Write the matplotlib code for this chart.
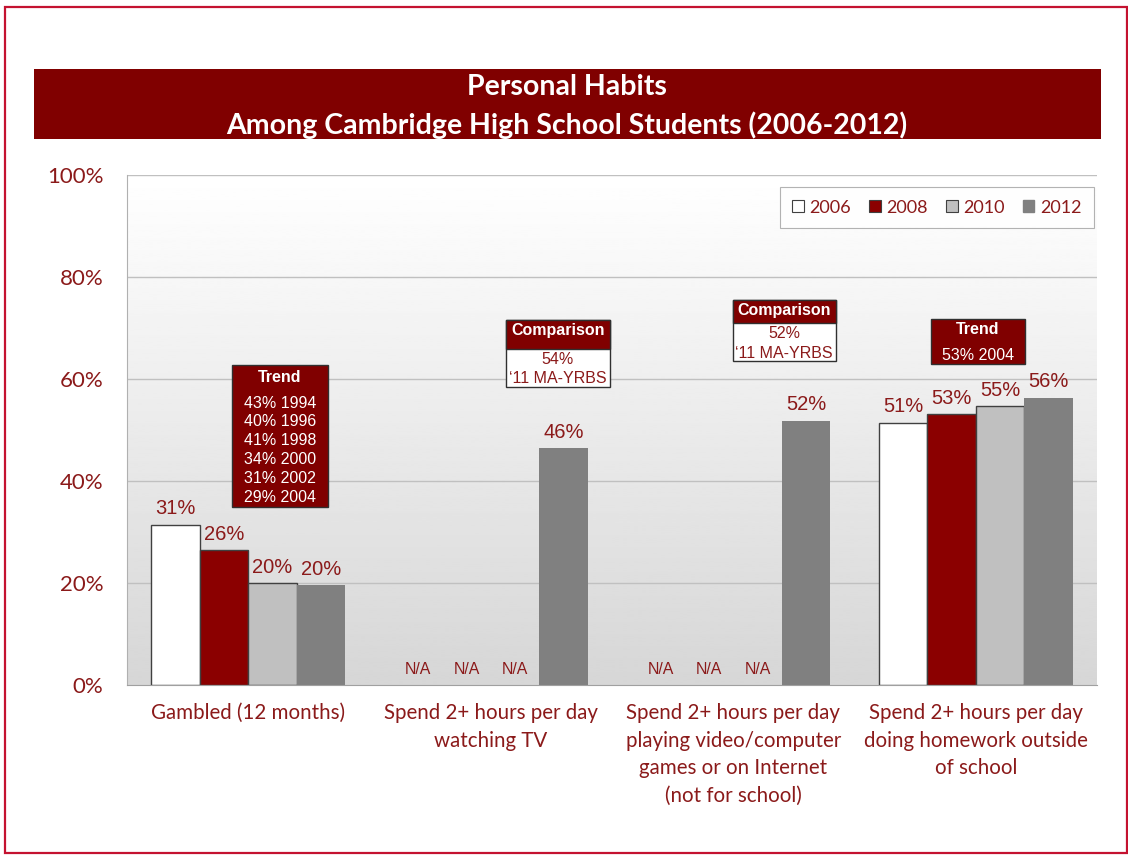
import numpy as np
import matplotlib
matplotlib.use("Agg")
import matplotlib.pyplot as plt
from matplotlib.patches import Rectangle, Patch

# data
categories = ["Gambled (12 months)",
              "Spend 2+ hours per day\nwatching TV",
              "Spend 2+ hours per day\nplaying video/computer\ngames or on Internet\n(not for school)",
              "Spend 2+ hours per day\ndoing homework outside\nof school"]
years = ["2006", "2008", "2010", "2012"]
v2006 = [31.4, None, None, 51.4]
v2008 = [26.4, None, None, 53.1]
v2010 = [20.0, None, None, 54.7]
v2012 = [19.6, 46.4, 51.8, 56.3]
yticks = [0, 20, 40, 60, 80, 100]

trend_gambled = ["43% 1994", "40% 1996", "41% 1998", "34% 2000", "31% 2002", "29% 2004"]
trend_homework = ["53% 2004"]
comp_tv = ["54%", "\u201811 MA-YRBS"]
comp_games = ["52%", "\u201811 MA-YRBS"]

DARK = "#800000"
TXT = "#8b1a1a"
W, H = 1128, 855

fig = plt.figure(figsize=(W / 100, H / 100), dpi=100)


def fx(px):
    return px / W


def fy(py):
    return 1 - py / H


# outer border
fig.patches.append(Rectangle((fx(5), fy(853)), fx(1127) - fx(5), fy(7) - fy(853),
                             transform=fig.transFigure, fill=False,
                             edgecolor="#c41230", lw=1.6))

# title band
fig.patches.append(Rectangle((fx(34), fy(139)), fx(1101) - fx(34), fy(69) - fy(139),
                             transform=fig.transFigure, facecolor=DARK, edgecolor="none"))
fig.text(fx(567), fy(87), "Personal Habits", color="white", fontsize=20.5,
         fontweight="bold", family="Lato", ha="center", va="center")
fig.text(fx(567), fy(125), "Among Cambridge High School Students (2006-2012)",
         color="white", fontsize=20.5, fontweight="bold", family="Lato",
         ha="center", va="center")

ax = fig.add_axes([fx(127), fy(685), fx(1097) - fx(127), fy(175) - fy(685)])
ax.set_xlim(-0.5, 3.5)

# gradient background, white at the top to light grey at the bottom
grad = np.linspace(1.0, 0.84, 256).reshape(-1, 1)
ax.imshow(grad, cmap="gray", vmin=0, vmax=1, extent=[-0.5, 3.5, 0, 100],
          aspect="auto", zorder=0, origin="upper")
ax.set_ylim(0, 100)

for y in yticks[1:]:
    ax.axhline(y, color="#c0c0c0", lw=1, zorder=1)

styles = [("white", "#404040", 1.0), ("#8b0000", "#404040", 1.0),
          ("#c0c0c0", "#404040", 1.0), ("#808080", "none", 0)]
series = [v2006, v2008, v2010, v2012]
x = np.arange(len(categories))
width = 0.2
for i, (vals, (fc, ec, lw)) in enumerate(zip(series, styles)):
    xs = x + (i - 1.5) * width
    for xi, v in zip(xs, vals):
        if v is None:
            ax.annotate("N/A", (xi, 0), xytext=(0, 16), textcoords="offset pixels",
                        ha="center", va="center", color=TXT, fontsize=11.4,
                        family="Liberation Sans")
            continue
        ax.bar(xi, v, width, color=fc, edgecolor=ec, linewidth=lw, zorder=2)
        ax.annotate(f"{v:.0f}%", (xi, v), xytext=(0, 16), textcoords="offset pixels",
                    ha="center", va="center", color=TXT, fontsize=14.5,
                    family="Liberation Sans")

ax.set_yticks(yticks)
ax.set_yticklabels([f"{t}%" for t in yticks], color=TXT, fontsize=16, family="Lato")
ax.set_xticks(x)
ax.set_xticklabels(categories, color=TXT, fontsize=14.8, family="Lato", linespacing=1.48)
ax.tick_params(axis="y", length=0, pad=17)
ax.tick_params(axis="x", length=0, pad=13)
for s in ["top", "right"]:
    ax.spines[s].set_visible(False)
ax.spines["left"].set_color("#b0b0b0")
ax.spines["bottom"].set_color("#a0a0a0")

handles = [Patch(facecolor=fc, edgecolor=("#404040" if ec == "none" else ec), linewidth=0.8)
           for fc, ec, lw in styles]
handles[3] = Patch(facecolor="#808080", edgecolor="#808080")
leg = ax.legend(handles, years, ncol=4, loc="upper right",
                bbox_to_anchor=(fx(1094), fy(187)), bbox_transform=fig.transFigure,
                borderaxespad=0, frameon=True, fancybox=False,
                handlelength=0.65, handleheight=0.65, handletextpad=0.3,
                columnspacing=1.0, borderpad=0.7,
                prop={"family": "Lato", "size": 13})
leg.get_frame().set_edgecolor("#a0a0a0")
leg.get_frame().set_linewidth(0.8)
for t in leg.get_texts():
    t.set_color(TXT)


def fig_box(x0, y0, x1, y1, fc):
    fig.patches.append(Rectangle((fx(x0), fy(y1)), fx(x1) - fx(x0), fy(y0) - fy(y1),
                                 transform=fig.transFigure, facecolor=fc,
                                 edgecolor="#303030", lw=1.0, zorder=5))


def fig_txt(xc, yc, s, color, bold=False):
    fig.text(fx(xc), fy(yc), s, ha="center", va="center", color=color, fontsize=11.5,
             fontweight="bold" if bold else "normal", family="Liberation Sans", zorder=6)


# trend box, gambled
fig_box(232, 365, 328, 507, DARK)
fig_txt(280, 377, "Trend", "white", True)
for k, s in enumerate(trend_gambled):
    fig_txt(280, 403 + k * 18.8, s, "white")

# comparison box, TV
fig_box(506, 320, 610, 387, "white")
fig_box(506, 320, 610, 349, DARK)
fig_txt(558, 331, "Comparison", "white", True)
fig_txt(558, 359, comp_tv[0], TXT)
fig_txt(558, 378, comp_tv[1], TXT)

# comparison box, games
fig_box(733, 300, 836, 361, "white")
fig_box(733, 300, 836, 323, DARK)
fig_txt(784, 311, "Comparison", "white", True)
fig_txt(784, 333, comp_games[0], TXT)
fig_txt(784, 353, comp_games[1], TXT)

# trend box, homework
fig_box(931, 319, 1025, 364, DARK)
fig_txt(978, 329, "Trend", "white", True)
fig_txt(978, 355, trend_homework[0], "white")

plt.savefig("out.png", dpi=100)
